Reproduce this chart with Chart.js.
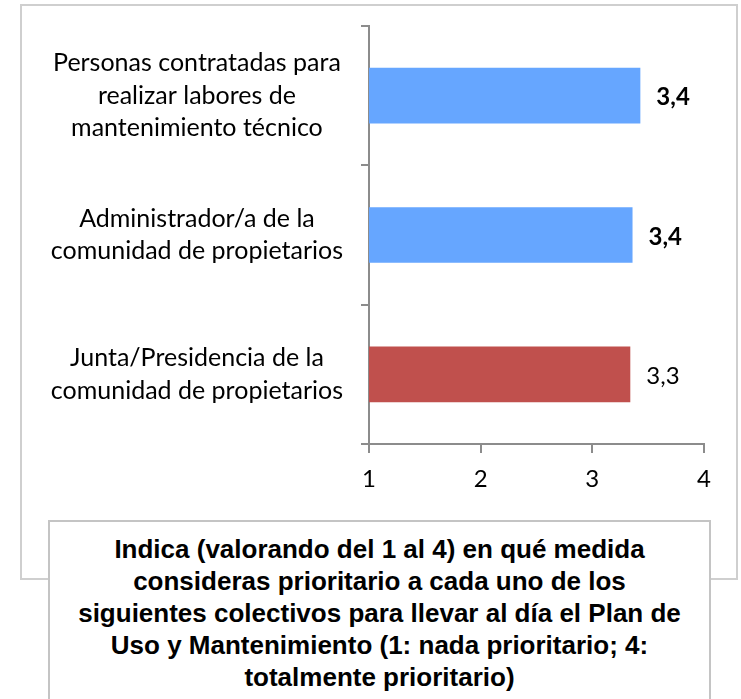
<!DOCTYPE html>
<html lang="es">
<head>
<meta charset="utf-8">
<title>Prioridad de colectivos</title>
<script src="https://cdn.jsdelivr.net/npm/chart.js@4/dist/chart.umd.min.js"></script>
<style>
    html, body { margin: 0; padding: 0; background: #fff; }
    #wrap { position: relative; width: 741px; height: 699px; overflow: hidden; }
    #marco {
        position: absolute; left: 20px; top: 4px; width: 714px; height: 572px;
        border: 2px solid #cfcfcf; box-sizing: content-box;
    }
    #grafico { position: absolute; left: 0; top: 0; }
    #titulo {
        position: absolute; left: 48px; top: 520px; width: 663px; height: 200px;
        border: 2px solid #c4c4c4; background: #fff;
        font-family: "Liberation Sans", Arial, sans-serif; font-weight: bold;
        font-size: 26px; line-height: 32px; text-align: center; color: #000;
        padding-top: 11px; box-sizing: border-box; white-space: nowrap;
    }
</style>
</head>
<body>
<div id="wrap">
    <div id="marco"></div>
    <canvas id="grafico" width="741" height="699"></canvas>
    <div id="titulo">
        Indica (valorando del 1 al 4) en qué medida<br>
        consideras prioritario a cada uno de los<br>
        siguientes colectivos para llevar al día el Plan de<br>
        Uso y Mantenimiento (1: nada prioritario; 4:<br>
        totalmente prioritario)
    </div>
</div>
<script>
// Datos del gráfico
const categorias = [
    ['Personas contratadas para', 'realizar labores de', 'mantenimiento técnico'],
    ['Administrador/a de la', 'comunidad de propietarios'],
    ['Junta/Presidencia de la', 'comunidad de propietarios']
];
const valores = [3.43, 3.36, 3.34];
const marcasEje = [1, 2, 3, 4];

const coloresBarras = ['#66a6ff', '#66a6ff', '#c0504d'];
const etiquetasNegrita = [true, true, false];

// Etiquetas de valor a la derecha de cada barra (formato 3,4)
const etiquetasValor = {
    id: 'etiquetasValor',
    afterDatasetsDraw(chart) {
        const ctx = chart.ctx;
        const meta = chart.getDatasetMeta(0);
        ctx.save();
        ctx.fillStyle = '#000';
        ctx.textAlign = 'left';
        ctx.textBaseline = 'middle';
        meta.data.forEach((bar, i) => {
            const v = chart.data.datasets[0].data[i];
            ctx.font = (etiquetasNegrita[i] ? 'bold ' : '') + '24px Lato';
            ctx.fillText(v.toFixed(1).replace('.', ','), bar.x + 16, bar.y + 2);
        });
        ctx.restore();
    }
};

const ctx = document.getElementById('grafico').getContext('2d');

const config = {
    type: 'bar',
    data: {
        labels: categorias,
        datasets: [{
            data: valores,
            backgroundColor: coloresBarras,
            borderWidth: 0,
            barPercentage: 0.4,
            categoryPercentage: 1
        }]
    },
    options: {
        indexAxis: 'y',
        responsive: false,
        animation: false,
        devicePixelRatio: 1,
        layout: {
            padding: { top: 26, right: 37, bottom: 0, left: 0 }
        },
        plugins: {
            legend: { display: false },
            tooltip: { enabled: false },
            title: { display: false }
        },
        scales: {
            x: {
                min: 1,
                max: 4,
                afterBuildTicks(scale) {
                    scale.ticks = marcasEje.map(v => ({ value: v }));
                },
                afterFit(scale) {
                    scale.height = 255;
                    scale.paddingLeft = 0;
                    scale.paddingRight = 0;
                },
                grid: {
                    drawOnChartArea: false,
                    drawTicks: true,
                    tickLength: 9,
                    color: '#8c8c8c',
                    lineWidth: 2
                },
                border: { color: '#8c8c8c', width: 2 },
                ticks: {
                    padding: 12,
                    color: '#000',
                    font: { family: 'Lato', size: 24 }
                }
            },
            y: {
                afterFit(scale) {
                    scale.width = 369;
                    scale.paddingTop = 0;
                    scale.paddingBottom = 0;
                },
                grid: {
                    offset: true,
                    drawOnChartArea: false,
                    drawTicks: true,
                    tickLength: 8,
                    color: '#8c8c8c',
                    lineWidth: 2
                },
                border: { color: '#8c8c8c', width: 2 },
                ticks: {
                    crossAlign: 'center',
                    padding: 18,
                    color: '#000',
                    font: { family: 'Lato', size: 25, lineHeight: 1.3 }
                }
            }
        }
    },
    plugins: [etiquetasValor]
};

// Dibujar el gráfico
new Chart(ctx, config);
</script>
</body>
</html>
